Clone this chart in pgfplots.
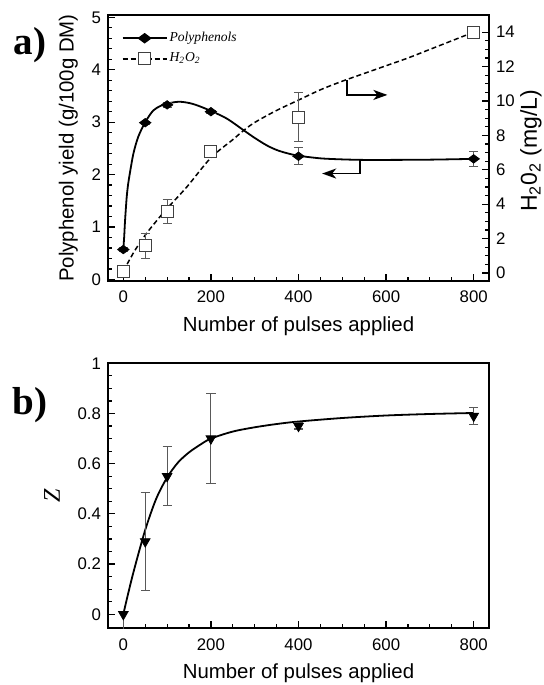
\documentclass[border=0pt]{standalone}
\usepackage{fontspec}
\setmainfont{Liberation Sans}
\newfontfamily\timesfont{Liberation Serif}
\usepackage{pgfplots}
\usepackage{pgfplotstable}
\pgfplotsset{compat=1.18}
\usetikzlibrary{arrows.meta}

\pgfplotstableread{
x y e
0 0.57 0.04
50 2.99 0.03
100 3.33 0.05
200 3.20 0.03
400 2.35 0.16
800 2.30 0.14
}\polydata

\pgfplotstableread{
x y e
0 0.10 0.08
50 1.57 0.71
100 3.55 0.70
200 7.09 0.15
400 9.05 1.43
800 14.0 0.10
}\hdata

\pgfplotstableread{
x y ep em
0 0.00 0.01 0.06
50 0.29 0.195 0.195
100 0.55 0.118 0.118
200 0.70 0.18 0.18
400 0.75 0.012 0.012
800 0.79 0.035 0.035
}\zdata

\colorlet{errc}{black!65}

\pgfplotsset{
 myaxis/.style={
   scale only axis, width=190.5pt,
   xmin=-35, xmax=835,
   xtick={0,200,400,600,800}, minor x tick num=3,
   tick align=inside,
   major tick length=3.5pt, minor tick length=2pt,
   /pgf/number format/assume math mode=true,
   ticklabel style={font=\fontsize{8.4}{10}\selectfont},
   xticklabel style={yshift=-1.5pt},
   label style={font=\fontsize{10.2}{12}\selectfont},
   axis line style={line width=0.9pt},
   every tick/.style={black, line width=0.6pt},
 },
 myerr/.style={error bars/.cd, y dir=both, y explicit,
   error bar style={errc, line width=0.55pt},
   error mark options={rotate=90, mark size=2.3pt, errc, line width=0.55pt},
   /pgfplots/.cd},
}

\begin{document}
\begin{tikzpicture}
\path[use as bounding box] (0,0) rectangle (272pt,342.5pt);

% ---------- a) left axis ----------
\begin{axis}[myaxis,
  at={(54pt,202pt)}, anchor=south west, height=133pt,
  ymin=-0.03, ymax=5.045, ytick={0,1,2,3,4,5}, minor y tick num=4,
  xtick pos=bottom, ytick pos=left,
  xlabel={Number of pulses applied},
  ylabel={Polyphenol yield (g/100g DM)},
  legend style={at={(0.035,0.945)}, anchor=north west, draw=none, fill=none,
    font=\timesfont\itshape\fontsize{6.8}{8}\selectfont, row sep=2.2pt,
    inner sep=0pt, nodes={inner sep=1pt}},
  legend cell align=left,
  legend image code/.code={\draw[mark repeat=2,mark phase=2,#1] plot coordinates {(0pt,0pt) (11pt,0pt) (22pt,0pt)};},
]
\addplot[black, line width=0.9pt, smooth, no marks, forget plot] coordinates {
(0,0.57) (2,0.82) (4,1.13) (7.6,1.56) (11,1.82) (15,2.03) (23,2.40) (34,2.72)
(50,3.00) (68,3.22) (85,3.31) (100,3.355) (128,3.39) (158,3.35) (193,3.24)
(236,3.07) (274,2.85) (300,2.70) (327,2.56) (350,2.47) (373,2.41) (400,2.36)
(450,2.31) (500,2.29) (550,2.28) (600,2.28) (700,2.285) (800,2.30)};
\addplot[forget plot, only marks, mark=diamond*, mark size=2.1pt, mark options={xscale=1.8, fill=black, draw=black}, myerr]
  table[x=x, y=y, y error=e] {\polydata};
\draw[line width=0.9pt, -{Stealth[length=7pt,width=5pt,inset=2pt]}] (axis cs:511,3.80) -- (axis cs:511,3.52) -- (axis cs:603,3.52);
\draw[line width=0.9pt, -{Stealth[length=7pt,width=5pt,inset=2pt]}] (axis cs:541,2.28) -- (axis cs:541,2.02) -- (axis cs:454,2.02);
\addlegendimage{black, line width=0.9pt, mark=diamond*, mark size=2.1pt, mark options={xscale=1.8, fill=black}}
\addlegendentry{Polyphenols}
\addlegendimage{black, line width=0.75pt, dash pattern=on 2.5pt off 1.5pt, mark=square*, mark size=3pt, mark options={solid, fill=white, draw=black!75, line width=0.5pt}}
\addlegendentry{H\textsubscript{2}O\textsubscript{2}}
\end{axis}

% ---------- a) right axis ----------
\begin{axis}[myaxis,
  at={(54pt,202pt)}, anchor=south west, height=133pt,
  axis x line=none, axis y line*=right,
  ymin=-0.47, ymax=15.0, ytick={0,2,4,6,8,10,12,14}, minor y tick num=3,
  ylabel={H\textsubscript{2}0\textsubscript{2} (mg/L)},
  every axis y label/.style={at={([xshift=21pt]rel axis cs:1,0.49)}, rotate=90, anchor=center,
    font=\fontsize{11.5}{13}\selectfont},
]
\addplot[black, line width=0.75pt, dash pattern=on 2.5pt off 1.5pt, smooth, no marks] coordinates {
(0,0.10) (25,1.25) (50,2.2) (75,3.0) (100,3.75) (145,5.0) (200,6.7) (250,7.75)
(274,8.27) (300,8.75) (350,9.45) (400,10.05) (450,10.65) (500,11.15) (550,11.6)
(600,12.05) (650,12.5) (700,13.0) (750,13.5) (800,14.0)};
\addplot[only marks, mark=square*, mark size=3pt, mark options={fill=white, draw=black!75, line width=0.5pt}, myerr]
  table[x=x, y=y, y error=e] {\hdata};
\end{axis}

% ---------- b) ----------
\begin{axis}[myaxis,
  at={(54pt,28.35pt)}, anchor=south west, height=132.5pt,
  ymin=-0.056, ymax=1, ytick={0,0.2,0.4,0.6,0.8,1}, minor y tick num=3,
  xtick pos=bottom, ytick pos=left,
  xlabel={Number of pulses applied},
  ylabel={\timesfont\itshape\fontsize{12}{14}\selectfont Z},
  ylabel style={yshift=2pt},
]
\addplot[black, line width=0.9pt, smooth, no marks] coordinates {
(0,0) (10,0.075) (25,0.18) (50,0.336) (75,0.46) (100,0.545) (125,0.605)
(150,0.645) (175,0.675) (200,0.70) (250,0.728) (300,0.745) (350,0.758)
(400,0.768) (500,0.782) (600,0.792) (700,0.798) (800,0.802)};
\addplot[only marks, mark=triangle*, mark size=2.8pt, mark options={rotate=180, fill=black, draw=black}, myerr]
  table[x=x, y=y, y error plus=ep, y error minus=em] {\zdata};
\end{axis}

\node[font=\timesfont\bfseries\fontsize{19.5}{22}\selectfont] at (15pt,320pt) {a)};
\node[font=\timesfont\bfseries\fontsize{19.5}{22}\selectfont] at (15pt,140pt) {b)};
\end{tikzpicture}
\end{document}
